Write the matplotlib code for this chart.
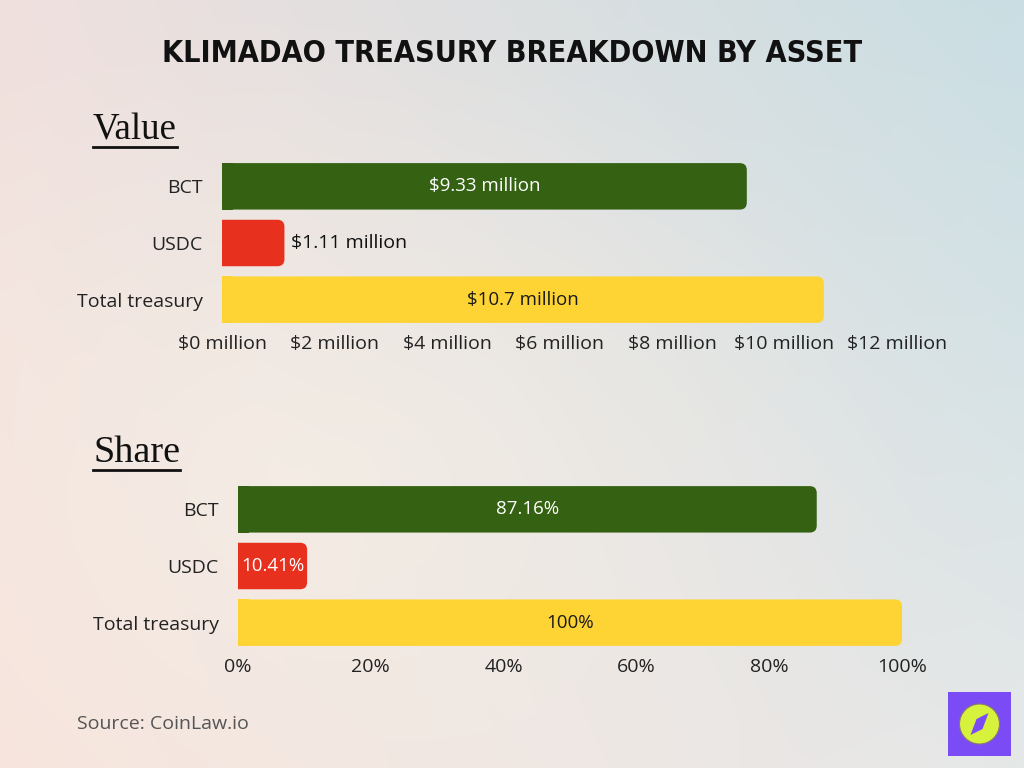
import numpy as np
import matplotlib
matplotlib.use("Agg")
import matplotlib.pyplot as plt
from matplotlib.patches import FancyBboxPatch, Rectangle, Polygon, Ellipse

# ---- data ----
categories = ["BCT", "USDC", "Total treasury"]
value_millions = [9.33, 1.11, 10.7]
value_labels = ["$9.33 million", "$1.11 million", "$10.7 million"]
share_pct = [87.16, 10.41, 100.0]
share_labels = ["87.16%", "10.41%", "100%"]
value_ticks = [0, 2, 4, 6, 8, 10, 12]
value_ticklabels = [f"${t} million" for t in value_ticks]
share_ticks = [0, 20, 40, 60, 80, 100]
share_ticklabels = [f"{t}%" for t in share_ticks]
bar_colors = ["#346212", "#e8301f", "#fed434"]
label_colors = ["white", "white", "#1a1a1a"]
value_inside = [True, False, True]
share_inside = [True, True, True]

FONT = ["Open Sans", "DejaVu Sans"]
plt.rcParams["font.family"] = FONT

fig = plt.figure(figsize=(10.24, 7.68), dpi=100)

# ---- background gradient ----
bg = fig.add_axes([0, 0, 1, 1], zorder=-10)
bg.set_axis_off()
h, w = 96, 128
yy, xx = np.mgrid[0:1:h*1j, 0:1:w*1j]
tl = np.array([0.94, 0.88, 0.87])
tr = np.array([0.79, 0.87, 0.89])
bl = np.array([0.97, 0.89, 0.86])
br = np.array([0.90, 0.91, 0.91])
img = (tl[None, None, :] * ((1 - xx) * (1 - yy))[..., None]
       + tr[None, None, :] * (xx * (1 - yy))[..., None]
       + bl[None, None, :] * ((1 - xx) * yy)[..., None]
       + br[None, None, :] * (xx * yy)[..., None])
cx, cy = 0.3, 0.62
d = np.sqrt((xx - cx) ** 2 + (yy - cy) ** 2)
glow = np.clip(1 - d / 0.6, 0, 1)[..., None] * 0.6
img = img * (1 - glow) + np.array([0.97, 0.95, 0.91]) * glow
bg.imshow(img, extent=[0, 1, 0, 1], aspect="auto", interpolation="bicubic")
bg.set_xlim(0, 1); bg.set_ylim(0, 1)


def draw_panel(ax, vals, labels, inside, xmax, ticks, ticklabels, px_per_unit):
    ypos = np.arange(len(categories))
    bars = ax.barh(ypos, vals, height=0.82, color=bar_colors, alpha=0)
    for b, c in zip(bars, bar_colors):
        x0, y0 = b.get_x(), b.get_y()
        bw, bh = b.get_width(), b.get_height()
        r = 7 / px_per_unit
        p = FancyBboxPatch((x0 - r, y0), bw + r, bh,
                           boxstyle=f"round,pad=0,rounding_size={r}",
                           mutation_aspect=px_per_unit / 56.5,
                           facecolor=c, edgecolor="none", zorder=2)
        ax.add_patch(p)
        ax.add_patch(Rectangle((x0, y0), min(r * 1.5, bw), bh, facecolor=c,
                               edgecolor="none", zorder=2))
    for i, (v, lab, ins) in enumerate(zip(vals, labels, inside)):
        if ins:
            ax.text(v / 2, i, lab, ha="center", va="center",
                    color=label_colors[i], fontsize=13.5, zorder=3)
        else:
            ax.text(v + 7 / px_per_unit, i, lab, ha="left", va="center",
                    color="#111111", fontsize=14, zorder=3)
    ax.set_xlim(0, xmax)
    ax.set_ylim(2.5, -0.5)
    ax.set_yticks(ypos)
    ax.set_yticklabels(categories, fontsize=14, color="#222222")
    ax.set_xticks(ticks)
    ax.set_xticklabels(ticklabels, fontsize=14, color="#222222")
    ax.tick_params(axis="both", length=0)
    ax.tick_params(axis="y", pad=14)
    ax.tick_params(axis="x", pad=5)
    for s in ax.spines.values():
        s.set_visible(False)
    ax.patch.set_alpha(0)


ax1 = fig.add_axes([222 / 1024, 1 - 328 / 768, 675 / 1024, 170 / 768])
draw_panel(ax1, value_millions, value_labels, value_inside, 12,
           value_ticks, value_ticklabels, 675 / 12)

ax2 = fig.add_axes([238 / 1024, 1 - 651 / 768, 664 / 1024, 170 / 768])
draw_panel(ax2, share_pct, share_labels, share_inside, 100,
           share_ticks, share_ticklabels, 664 / 100)

# ---- title, fitted to width ----
renderer = fig.canvas.get_renderer()
title = fig.text(0.5, 1 - 53 / 768, "KLIMADAO TREASURY BREAKDOWN BY ASSET",
                 ha="center", va="center", fontsize=28, fontweight="bold",
                 family=["DejaVu Sans"], fontstretch="condensed", color="#111111")
tw = title.get_window_extent(renderer).width
title.set_fontsize(28 * 702 / tw)

for txt, yc, x1 in [("Value", 130, 177), ("Share", 453, 180)]:
    t = fig.text(93 / 1024, 1 - yc / 768, txt, ha="left", va="center",
                 fontsize=26, family=["Liberation Serif", "DejaVu Serif"],
                 color="#111111")
    ww = t.get_window_extent(renderer).width
    t.set_fontsize(26 * (x1 - 93) / ww)
    fig.add_artist(plt.Line2D([93 / 1024, x1 / 1024],
                              [1 - (yc + 17) / 768, 1 - (yc + 17) / 768],
                              color="#111111", lw=2))

fig.text(77 / 1024, 1 - 724 / 768, "Source: CoinLaw.io", ha="left",
         va="center", fontsize=14, color="#555555")

# ---- logo ----
fig.add_artist(Rectangle((948 / 1024, 1 - 756 / 768), 63 / 1024, 64 / 768,
                         transform=fig.transFigure, facecolor="#7b4cf5",
                         edgecolor="none"))
lx, ly = 979.5 / 1024, 1 - 724 / 768
fig.add_artist(Ellipse((lx, ly), 40 / 1024, 40 / 768,
                       transform=fig.transFigure, facecolor="#d6f23c",
                       edgecolor="#8a7a6a", lw=0.8))
fig.add_artist(Polygon([(lx + 9 / 1024, ly + 11 / 768), (lx + 3 / 1024, ly - 5 / 768),
                        (lx - 9 / 1024, ly - 11 / 768), (lx - 3 / 1024, ly + 5 / 768)],
                       closed=True, transform=fig.transFigure,
                       facecolor="#7b4cf5", edgecolor="none"))

fig.savefig("out.png", dpi=100)
